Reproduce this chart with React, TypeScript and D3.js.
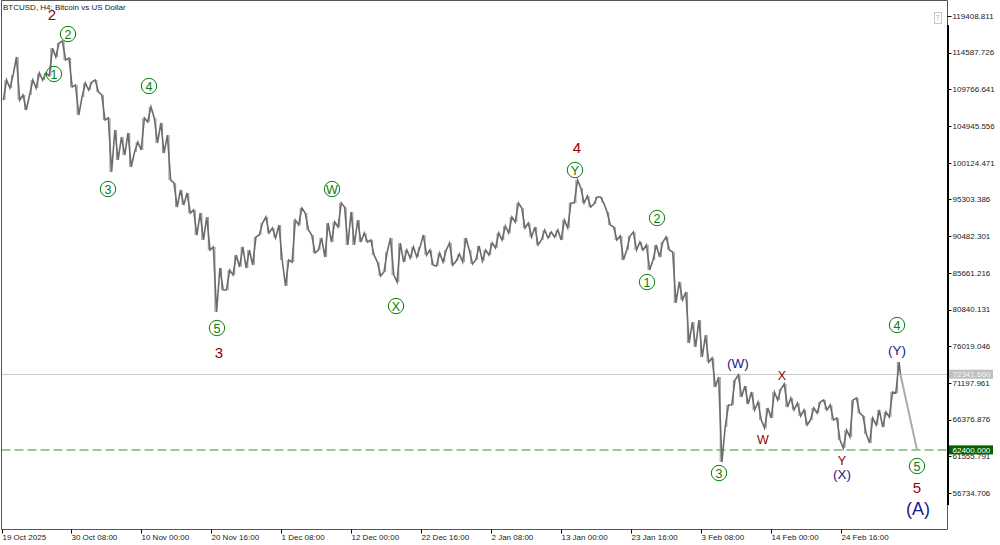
import React from 'react';
import * as d3 from 'd3';

const W = 1000;
const H = 545;
const DAY = 86400000;
const START = Date.UTC(2025, 9, 19, 19, 40);

// Daily high / low of BTCUSD (day 0 = 19 Oct 2025)
const highs = [
  111000, 111660, 114020, 109030, 111000, 111920, 111920, 115200, 115860, 116120,
  113890, 110340, 110610, 110740, 111000, 109030, 106010, 104430, 103510, 104040,
  102850, 106010, 107450, 106010, 105350, 103770, 97470, 96550, 96150, 93920,
  93520, 93000, 89060, 86300, 86030, 88000, 89060, 88660, 90370, 92210,
  93000, 91550, 91950, 87350, 92600, 94180, 93520, 90630, 90240, 92210,
  92340, 94840, 94310, 93650, 92600, 90900, 89980, 87080, 88400, 90240,
  89580, 88660, 89060, 89060, 90630, 88660, 88270, 88660, 89580, 88140,
  90240, 88660, 89190, 88660, 89580, 90900, 91820, 93000, 94840, 94180,
  92210, 91680, 91290, 91030, 91290, 92600, 94840, 97860, 96810, 95760,
  95630, 95630, 93650, 91680, 90500, 90500, 91030, 89710, 89320, 89320,
  89710, 90370, 88400, 84460, 83140, 79200, 79460, 77490, 74470, 71970,
  68290, 71580, 72240, 70790, 70000, 68690, 67900, 70000, 70400, 71050,
  69210, 68560, 67640, 67900, 68690, 68950, 68290, 66590, 65010, 68950,
  69210, 66850, 66590, 67640, 67370, 70000, 73940,
];
const lows = [
  108370, 109950, 108370, 107060, 109030, 109950, 111000, 111530, 114020, 113630,
  110080, 106400, 108770, 109690, 109420, 105740, 98910, 100490, 101140, 99570,
  101540, 101800, 105480, 102720, 101410, 97860, 94310, 94570, 93520, 90630,
  89980, 88660, 80510, 83410, 83410, 85380, 86430, 86300, 86690, 90630,
  90900, 90240, 87350, 83930, 87080, 91950, 91290, 88270, 88660, 87740,
  89710, 91680, 89320, 89320, 89710, 89710, 88000, 85250, 85770, 85380,
  84460, 87080, 87610, 87740, 88000, 86690, 86560, 87080, 86690, 87220,
  87080, 86820, 87350, 87220, 88000, 88920, 89980, 90900, 92340, 91550,
  90370, 89320, 89980, 90240, 90370, 89980, 91550, 94840, 94840, 94310,
  94710, 94840, 91950, 89980, 87350, 88660, 88660, 88660, 86030, 87350,
  87740, 88660, 81700, 82090, 76440, 75920, 74600, 73940, 70660, 60800,
  65400, 68290, 69350, 68430, 67640, 66320, 65270, 66590, 68950, 68030,
  67640, 66850, 65670, 66320, 67240, 67640, 66320, 63700, 62640, 64090,
  67240, 64480, 63300, 65670, 65400, 66720, 69870,
];
const lastClose = 72341.66;
const targetPrice = 62400;
const targetDay = 139.43;

const priceTicks = [
  119408.811, 114587.726, 109766.641, 104945.556, 100124.471, 95303.386, 90482.301,
  85661.216, 80840.131, 76019.046, 71197.961, 66376.876, 61555.791, 56734.706,
];

const timeTicks = [
  '2025-10-19T19:40:00Z', '2025-10-30T08:00:00Z', '2025-11-10T00:00:00Z', '2025-11-20T16:00:00Z',
  '2025-12-01T08:00:00Z', '2025-12-12T00:00:00Z', '2025-12-22T16:00:00Z', '2026-01-02T08:00:00Z',
  '2026-01-13T00:00:00Z', '2026-01-23T16:00:00Z', '2026-02-03T08:00:00Z', '2026-02-14T00:00:00Z',
  '2026-02-24T16:00:00Z',
];
const timeTickLabels = [
  '19 Oct 2025', '30 Oct 08:00', '10 Nov 00:00', '20 Nov 16:00', '1 Dec 08:00', '12 Dec 00:00',
  '22 Dec 16:00', '2 Jan 08:00', '13 Jan 00:00', '23 Jan 16:00', '3 Feb 08:00', '14 Feb 00:00',
  '24 Feb 16:00',
];

// Elliott wave labels: text, day offset, price level, style
const waveText = ['2', '2', '1', '4', '3', '5', '3', 'W', 'X', '4', 'Y', '2', '1', '(W)', 'X', 'W', '3', 'Y', '(X)', '4', '(Y)', '5', '5', '(A)'];
const waveDay = [7.62, 10.06, 7.92, 22.4, 16.15, 32.76, 33.07, 50.29, 60.04, 87.62, 87.31, 99.81, 98.29, 112.15, 118.86, 115.96, 109.26, 128.0, 128.0, 136.38, 136.38, 139.43, 139.43, 139.58];
const wavePrice = [119540, 117043, 111787, 110211, 96676, 78412, 75126, 96676, 81303, 102064, 99173, 92866, 84456, 73813, 72236, 63826, 59358, 61067, 59227, 78806, 75521, 60279, 57388, 54760];
const waveKind = ['red', 'circle', 'circle', 'circle', 'circle', 'circle', 'red', 'circle', 'circle', 'red', 'circle', 'circle', 'circle', 'blue', 'redS', 'redS', 'circle', 'redS', 'blue', 'circle', 'blue', 'circle', 'red', 'blueL'];

const FONT = '"Liberation Sans", Arial, sans-serif';

export default function App() {
  const x = d3.scaleUtc()
    .domain([new Date('2025-10-30T08:00:00Z'), new Date('2026-02-24T16:00:00Z')])
    .range([71, 841]);
  const y = d3.scaleLinear().domain([56734.706, 119408.811]).range([493, 16]);
  const dayX = (d: number) => x(new Date(START + d * DAY));

  // zig-zag path through daily extremes
  const pts: [number, number][] = [];
  const n = highs.length;
  for (let i = 0; i < n; i++) {
    const mid = (highs[i] + lows[i]) / 2;
    const prev = i > 0 ? (highs[i - 1] + lows[i - 1]) / 2 : mid;
    const next = i < n - 1 ? (highs[i + 1] + lows[i + 1]) / 2 : lastClose;
    const up = next >= prev;
    const a = up ? lows[i] : highs[i];
    const b = up ? highs[i] : lows[i];
    pts.push([dayX(i + 0.2), y(a)]);
    pts.push([dayX(i + 0.7), y(b)]);
  }
  const lastDay = n - 1 + 0.9;
  pts.push([dayX(lastDay), y(lastClose)]);
  const line = d3.line<[number, number]>().x((p) => p[0]).y((p) => p[1]);

  const left = 1.5;
  const right = 947.5;
  const bottom = 529.5;

  const green = '#0a7d0a';
  const red = '#960000';
  const blue = '#1a1a8a';

  return (
    <svg width={W} height={H} style={{ position: 'absolute', left: 0, top: 0, background: '#fff' }} fontFamily={FONT}>
      <rect x={0} y={0} width={W} height={H} fill="#fff" />
      {/* price line */}
      <line x1={left} x2={right} y1={Math.round(y(lastClose)) + 0.5} y2={Math.round(y(lastClose)) + 0.5} stroke="#c8c8c8" strokeWidth={1} />
      {/* target dashed line */}
      <line x1={left} x2={right} y1={y(targetPrice)} y2={y(targetPrice)} stroke="#96cc96" strokeWidth={2} strokeDasharray="9,4" />

      {/* daily range bars */}
      {highs.map((h, i) => (
        <line key={'b' + i} x1={dayX(i + 0.45)} x2={dayX(i + 0.45)} y1={y(h)} y2={y(lows[i])} stroke="#a0a0a0" strokeWidth={1.2} />
      ))}
      <path d={line(pts) || ''} fill="none" stroke="#6c6c6c" strokeWidth={1.6} strokeLinejoin="miter" />

      {/* projection */}
      <line x1={dayX(lastDay)} y1={y(lastClose)} x2={dayX(targetDay)} y2={y(targetPrice)} stroke="#aaaaaa" strokeWidth={2} />

      {/* frame */}
      <line x1={left} x2={left} y1={0.5} y2={bottom} stroke="#555" />
      <line x1={left} x2={right} y1={0.5} y2={0.5} stroke="#555" />
      <line x1={left} x2={right} y1={bottom} y2={bottom} stroke="#555" />
      <line x1={right} x2={right} y1={0.5} y2={bottom} stroke="#555" />
      <line x1={right + 0.5} x2={right + 0.5} y1={25} y2={505} stroke="#000" strokeWidth={2} />

      {/* small icon */}
      <rect x={934.5} y={12.5} width={7} height={11} fill="#fff" stroke="#c8c8c8" />
      <line x1={936.5} x2={939.5} y1={15.5} y2={15.5} stroke="#c8c8c8" />
      <line x1={938} x2={938} y1={15.5} y2={21} stroke="#c8c8c8" />

      {/* title */}
      <text x={3} y={10} fontSize={8} fill="#222">BTCUSD, H4: Bitcoin vs US Dollar</text>

      {/* price axis */}
      {priceTicks.map((p) => (
        <g key={'p' + p}>
          <line x1={right} x2={right + 4} y1={Math.round(y(p)) + 0.5} y2={Math.round(y(p)) + 0.5} stroke="#000" />
          <text x={right + 5} y={y(p)} dy="0.35em" fontSize={8} fill="#222">{p.toFixed(3)}</text>
        </g>
      ))}
      {/* price boxes */}
      <rect x={right + 1.5} y={y(lastClose) - 4.5} width={44} height={9} fill="#c0c0c0" />
      <text x={right + 5} y={y(lastClose)} dy="0.35em" fontSize={8} fill="#f4f4f4">{lastClose.toFixed(3)}</text>
      <rect x={right + 1.5} y={y(targetPrice) - 4.5} width={44} height={9} fill="#006400" />
      <text x={right + 5} y={y(targetPrice)} dy="0.35em" fontSize={8} fill="#fff">{targetPrice.toFixed(3)}</text>

      {/* time axis */}
      {timeTicks.map((t, i) => {
        const tx = Math.round(x(new Date(t))) + 0.5;
        return (
          <g key={'t' + i}>
            <line x1={tx} x2={tx} y1={bottom} y2={bottom + 4} stroke="#000" />
            <text x={tx} y={540} fontSize={8} fill="#222">{timeTickLabels[i]}</text>
          </g>
        );
      })}

      {/* wave labels */}
      {waveText.map((t, i) => {
        const cx = dayX(waveDay[i]);
        const cy = y(wavePrice[i]);
        const k = waveKind[i];
        if (k === 'circle') {
          return (
            <g key={'w' + i}>
              <circle cx={cx} cy={cy} r={7.7} fill="none" stroke={green} strokeWidth={1} />
              <text x={cx} y={cy} dy="0.36em" textAnchor="middle" fontSize={t.length > 1 ? 9 : 12.5} fill={green}>{t}</text>
            </g>
          );
        }
        const fill = k.startsWith('red') ? red : blue;
        const fs = k === 'red' ? 15 : k === 'redS' ? 12.5 : k === 'blueL' ? 18 : 13.5;
        return (
          <text key={'w' + i} x={cx} y={cy} dy="0.36em" textAnchor="middle" fontSize={fs} fill={fill}>{t}</text>
        );
      })}
    </svg>
  );
}
